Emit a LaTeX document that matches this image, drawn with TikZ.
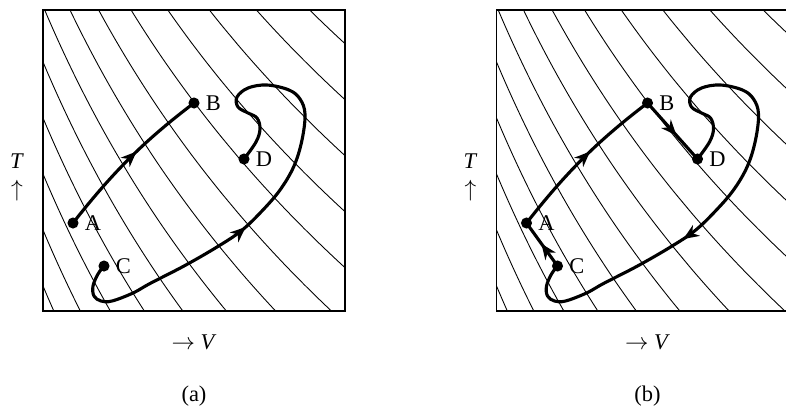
\documentclass[tikz,border=0pt]{standalone}
\usepackage{fontspec}
\setmainfont{Liberation Serif}
\usetikzlibrary{arrows.meta, decorations.markings}

\begin{document}
\begin{tikzpicture}[
    x=0.018cm, y=-0.018cm,
    font=\fontsize{11.5}{13}\selectfont,
    frame/.style={line width=0.8pt},
    isotherm/.style={line width=0.45pt},
    process/.style={line width=1.6pt, line join=round},
    state/.style={circle, fill=black, inner sep=0pt, minimum size=0.2cm},
    midarrow/.style={postaction={decorate, decoration={markings, mark=at position #1 with {\arrow{Stealth[length=8pt, width=6.5pt, inset=2.5pt]}}}}},
    backarrow/.style={postaction={decorate, decoration={markings, mark=at position #1 with {\arrowreversed{Stealth[length=8pt, width=6.5pt, inset=2.5pt]}}}}}
]
\useasboundingbox (0,0) rectangle (786,408);

% Isotherms and frames
\foreach \dx in {0,453.5} {
  \begin{scope}[shift={(\dx,0)}]
    \begin{scope}
      \clip (43,10) rectangle (345,311);
      \foreach \m in {-7,...,5}
        \draw[isotherm] plot[domain=43:345, samples=60] (\x, {6+56*\m+451.6*ln((\x+147)/190)});
    \end{scope}
    \draw[frame] (43,10) rectangle (345,311);
  \end{scope}
}

% Panel (a)
\begin{scope}
\node (ta) at (17,161) {\textit{T}};
\node (ua) at (17,191) {$\uparrow$};
\node (va) at (194,342) {$\rightarrow$ \textit{V}};
\node (capa) at (194,396) {(a)};

\node[state, label={[label distance=-0.5pt]right:A}] (Aa) at (73,223) {};
\node[state, label={[label distance=-0.5pt]right:B}] (Ba) at (194,103) {};
\node[state, label={[label distance=-0.5pt]right:C}] (Ca) at (104,266) {};
\node[state, label={[label distance=-0.5pt]right:D}] (Da) at (244,159) {};

\draw[process, midarrow=0.56] (Aa.center) .. controls (113,172) and (144,141) .. (Ba.center);
\draw[process, midarrow=0.41] plot[smooth, tension=0.6] coordinates {(Ca.center) (98,274) (93,286) (94,296) (101,301) (112,301) (133,293) (150,283.5) (184,266) (217,247) (241,231) (261,212) (280,190) (294,166) (302,140) (305,114) (300,99) (289,90) (267,85) (248,88) (237,97) (238,107) (248,113) (257,118) (260,129) (256,142) (Da.center)};
\end{scope}

% Panel (b)
\begin{scope}[shift={(453.5,0)}]
\node (tb) at (17,161) {\textit{T}};
\node (ub) at (17,191) {$\uparrow$};
\node (vb) at (194,342) {$\rightarrow$ \textit{V}};
\node (capb) at (194,396) {(b)};

\node[state, label={[label distance=-0.5pt]right:A}] (Ab) at (73,223) {};
\node[state, label={[label distance=-0.5pt]right:B}] (Bb) at (194,103) {};
\node[state, label={[label distance=-0.5pt]right:C}] (Cb) at (104,266) {};
\node[state, label={[label distance=-0.5pt]right:D}] (Db) at (244,159) {};

\draw[process, midarrow=0.56] (Ab.center) .. controls (113,172) and (144,141) .. (Bb.center);
\draw[process, midarrow=0.58] (Bb.center) -- (Db.center);
\draw[process, midarrow=0.52] (Cb.center) -- (Ab.center);
\draw[process, backarrow=0.37] plot[smooth, tension=0.6] coordinates {(Cb.center) (98,274) (93,286) (94,296) (101,301) (112,301) (133,293) (150,283.5) (184,266) (217,247) (241,231) (261,212) (280,190) (294,166) (302,140) (305,114) (300,99) (289,90) (267,85) (248,88) (237,97) (238,107) (248,113) (257,118) (260,129) (256,142) (Db.center)};
\end{scope}
\end{tikzpicture}
\end{document}
